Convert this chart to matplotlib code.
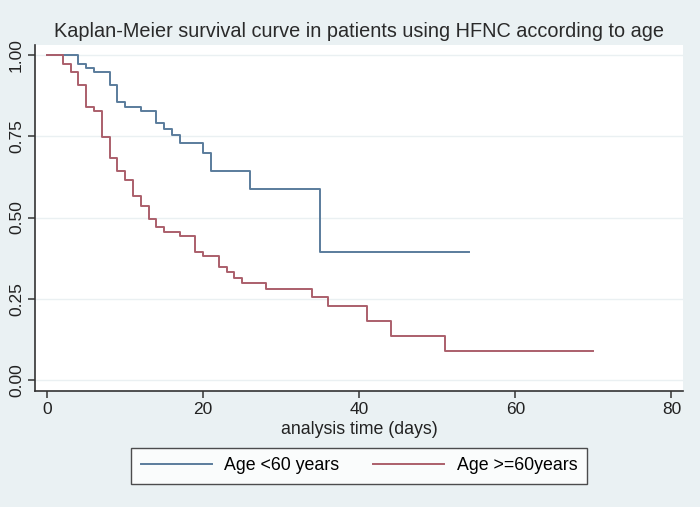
import matplotlib
matplotlib.use("Agg")
import matplotlib.pyplot as plt

plt.rcParams['font.family'] = ['Liberation Sans', 'DejaVu Sans']

# Kaplan-Meier estimates (step drops)
days_lt60 = [0, 4, 5, 6, 8, 9, 10, 12, 14, 15, 16, 17, 20, 21, 26, 35, 54]
surv_lt60 = [1.0, 0.974, 0.961, 0.947, 0.908, 0.855, 0.841, 0.827, 0.790,
             0.772, 0.753, 0.728, 0.700, 0.643, 0.589, 0.395, 0.395]

days_ge60 = [0, 2, 3, 4, 5, 6, 7, 8, 9, 10, 11, 12, 13, 14, 15, 17, 19, 20,
             22, 23, 24, 25, 28, 34, 36, 41, 44, 51, 70]
surv_ge60 = [1.0, 0.972, 0.948, 0.907, 0.841, 0.829, 0.749, 0.684, 0.644,
             0.616, 0.566, 0.535, 0.495, 0.470, 0.456, 0.443, 0.395, 0.382,
             0.349, 0.333, 0.313, 0.297, 0.279, 0.254, 0.227, 0.182, 0.135,
             0.090, 0.090]

labels = ['Age <60 years', 'Age >=60years']
colors = ['#5a7c9c', '#ab5f6b']
xticks = [0, 20, 40, 60, 80]
yticks = [0.0, 0.25, 0.5, 0.75, 1.0]

bg = '#eaf1f3'
fig = plt.figure(figsize=(7, 5.07), dpi=100, facecolor=bg)
ax = fig.add_axes([0.05, 0.229, 0.926, 0.682])
ax.set_facecolor('white')

ax.step(days_lt60, surv_lt60, where='post', color=colors[0], lw=1.4, label=labels[0])
ax.step(days_ge60, surv_ge60, where='post', color=colors[1], lw=1.4, label=labels[1])

ax.set_xlim(-1.55, 81.5)
ax.set_ylim(-0.034, 1.031)
ax.set_xticks(xticks)
ax.set_yticks(yticks)
ax.set_yticklabels(['%.2f' % v for v in yticks], rotation=90, va='center')
ax.grid(axis='y', color='#eaf0f2', lw=1.0)
ax.set_axisbelow(True)

for s in ['top', 'right']:
    ax.spines[s].set_visible(False)
for s in ['left', 'bottom']:
    ax.spines[s].set_color('#333333')
    ax.spines[s].set_linewidth(1.2)
ax.tick_params(direction='out', length=5, width=1.1, color='#333333',
               labelsize=12.5, labelcolor='#222222', pad=3)

ax.set_xlabel('analysis time (days)', fontsize=12.8, color='#222222', labelpad=3)
fig.text(0.513, 0.938, 'Kaplan-Meier survival curve in patients using HFNC according to age',
         ha='center', va='center', fontsize=14.3, color='#2a2a2a')

leg = fig.legend(loc='center', bbox_to_anchor=(0.513, 1 - 466 / 507), ncol=2,
                 fontsize=12.8, frameon=True, fancybox=False, handlelength=4.0,
                 handletextpad=0.7, columnspacing=1.9, borderpad=0.55)
leg.get_frame().set_edgecolor('#222222')
leg.get_frame().set_linewidth(1.0)

fig.savefig('out.png', dpi=100, facecolor=bg)
